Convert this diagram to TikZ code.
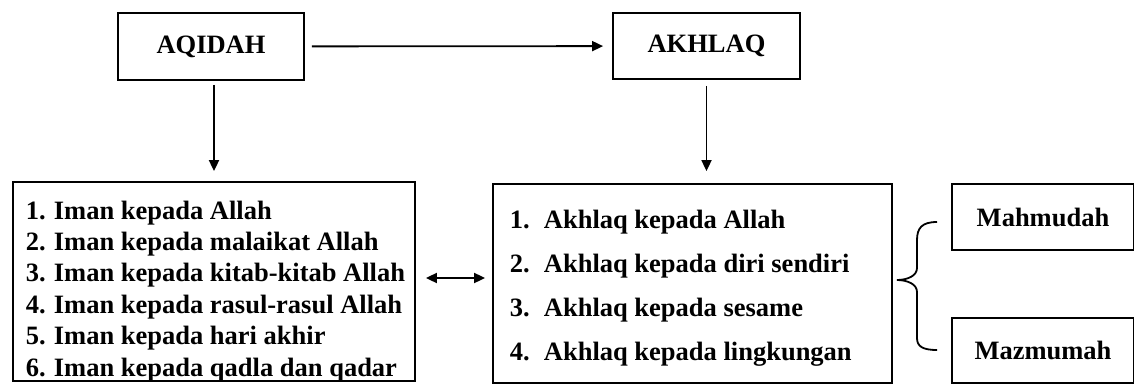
\documentclass[tikz,border=0pt]{standalone}
\usepackage{fontspec}
\setmainfont{Liberation Serif}
\usetikzlibrary{arrows.meta}

\begin{document}
\begin{tikzpicture}[x=1pt, y=-1pt, line width=1.8pt, >={Triangle[length=11pt,width=10pt]},
    box/.style={draw, inner sep=0pt, font=\fontsize{26.5}{32}\selectfont\bfseries},
    item/.style={anchor=base west, inner sep=0pt, font=\fontsize{26.5}{32}\selectfont\bfseries}]
    \useasboundingbox (0, 0) rectangle (1134, 385);
    \path (211, 46.5) node[box, minimum width=186pt, minimum height=67pt](aqidah) {AQIDAH}
          (706.5, 46) node[box, minimum width=187pt, minimum height=66pt](akhlaq) {AKHLAQ}
          (214, 281.5) node[box, minimum width=402pt, minimum height=199pt](iman) {}
          (692.5, 283.5) node[box, minimum width=399pt, minimum height=199pt](adab) {}
          (1043, 217) node[box, minimum width=182pt, minimum height=66pt](mahmudah) {Mahmudah}
          (1043, 350.5) node[box, minimum width=182pt, minimum height=65pt](mazmumah) {Mazmumah};
    % isi rukun iman dan ruang lingkup akhlaq
    \foreach \n/\t [count=\i from 0] in {1/Iman kepada Allah, 2/Iman kepada malaikat Allah,
        3/Iman kepada kitab-kitab Allah, 4/Iman kepada rasul-rasul Allah,
        5/Iman kepada hari akhir, 6/Iman kepada qadla dan qadar}
        \node[item] (iman\n) at (25, 219+31.4*\i) {\makebox[28pt][l]{\n.}\t};
    \foreach \n/\t [count=\i from 0] in {1/Akhlaq kepada Allah, 2/Akhlaq kepada diri sendiri,
        3/Akhlaq kepada sesame, 4/Akhlaq kepada lingkungan}
        \node[item] (adab\n) at (509, 228+44*\i) {\makebox[34pt][l]{\n.}\t};
    \draw[->, shorten <=7pt, shorten >=9pt] (aqidah) -- (akhlaq);
    \draw[->, shorten <=4pt, shorten >=10pt] (aqidah.south -| iman.north) -- (iman.north);
    \draw[->, shorten <=6pt, shorten >=12pt] (akhlaq.south) -- (akhlaq.south |- adab.north);
    \draw[<->, shorten <=10pt, shorten >=7pt] ([yshift=3.5pt]iman.east) -- ([yshift=3.5pt]iman.east -| adab.west);
    % kurung kurawal
    \draw (937, 222) .. controls (922, 222) and (917, 228) .. (917, 240) -- (917, 268)
          .. controls (917, 276) and (907, 280) .. (897, 280)
          .. controls (907, 280) and (917, 284) .. (917, 292) -- (917, 338)
          .. controls (917, 346) and (922, 350) .. (937, 350);
\end{tikzpicture}
\end{document}
